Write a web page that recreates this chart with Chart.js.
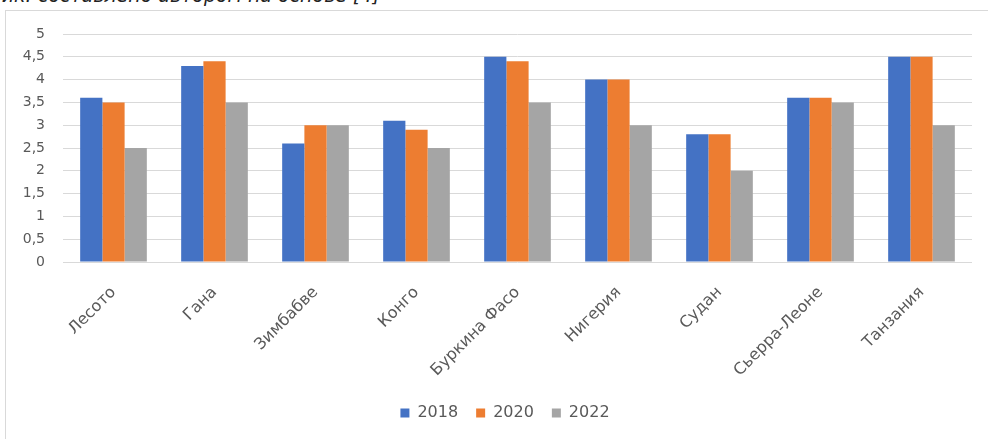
<!DOCTYPE html>
<html lang="ru">
<head>
<meta charset="utf-8">
<script src="https://cdn.jsdelivr.net/npm/chart.js@4"></script>
<style>
    body { margin: 0; width: 988px; height: 439px; overflow: hidden; background: #fff; position: relative; }
    #source { position: absolute; right: 608px; top: -16px; font: italic 19px "DejaVu Sans", sans-serif; color: #222; white-space: nowrap; }
    #frameTop { position: absolute; left: 5px; top: 10px; right: 0; height: 1px; background: #d9d9d9; }
    #frameLeft { position: absolute; left: 5px; top: 10px; bottom: 0; width: 1px; background: #d9d9d9; }
    #wrap { position: absolute; left: 0; top: 0; width: 988px; height: 439px; }
</style>
</head>
<body>
<div id="source">Источник: составлено автором на основе [4]</div>
<div id="frameTop"></div>
<div id="frameLeft"></div>
<div id="wrap"><canvas id="chart"></canvas></div>
<script>
// страны
const countries = ['Лесото', 'Гана', 'Зимбабве', 'Конго', 'Буркина Фасо', 'Нигерия', 'Судан', 'Сьерра-Леоне', 'Танзания'];
const years = ['2018', '2020', '2022'];

// значения по годам
const values2018 = [3.6, 4.3, 2.6, 3.1, 4.5, 4.0, 2.8, 3.6, 4.5];
const values2020 = [3.5, 4.4, 3.0, 2.9, 4.4, 4.0, 2.8, 3.6, 4.5];
const values2022 = [2.5, 3.5, 3.0, 2.5, 3.5, 3.0, 2.0, 3.5, 3.0];

const yMin = 0;
const yMax = 5;
const yStep = 0.5;

const colors = ['#4472C4', '#ED7D31', '#A5A5A5'];

// легенда в оригинале чуть правее центра
const shiftLegend = {
    id: 'shiftLegend',
    afterLayout(chart) {
        if (chart.legend) {
            chart.legend.left += 14;
            chart.legend.right += 14;
        }
    }
};

document.addEventListener("DOMContentLoaded", function() {
    drawChart();
});

function drawChart() {
    const ctx = document.getElementById('chart').getContext('2d');
    const series = [values2018, values2020, values2022];

    new Chart(ctx, {
        type: 'bar',
        data: {
            labels: countries,
            datasets: series.map((vals, i) => ({
                label: years[i],
                data: vals,
                backgroundColor: colors[i],
                categoryPercentage: 0.66,
                barPercentage: 1.0
            }))
        },
        plugins: [shiftLegend],
        options: {
            responsive: true,
            maintainAspectRatio: false,
            animation: false,
            layout: {
                padding: { left: 10, right: 16, top: 34, bottom: 8 }
            },
            plugins: {
                tooltip: { enabled: false },
                legend: {
                    position: 'bottom',
                    labels: {
                        boxWidth: 9,
                        boxHeight: 9,
                        padding: 18,
                        color: '#595959',
                        font: { family: 'DejaVu Sans', size: 16 }
                    }
                }
            },
            scales: {
                x: {
                    grid: { display: false },
                    border: { display: false },
                    ticks: {
                        minRotation: 45,
                        maxRotation: 45,
                        padding: 13,
                        color: '#595959',
                        font: { family: 'DejaVu Sans', size: 16 }
                    },
                    afterFit: function(scale) { scale.height = 125; }
                },
                y: {
                    min: yMin,
                    max: yMax,
                    grid: { color: '#d9d9d9', drawTicks: false },
                    border: { display: false },
                    ticks: {
                        stepSize: yStep,
                        padding: 18,
                        color: '#595959',
                        font: { family: 'DejaVu Sans', size: 14 },
                        callback: v => String(v).replace('.', ',')
                    },
                    afterFit: function(scale) { scale.width = 53; }
                }
            }
        }
    });
}
</script>
</body>
</html>
